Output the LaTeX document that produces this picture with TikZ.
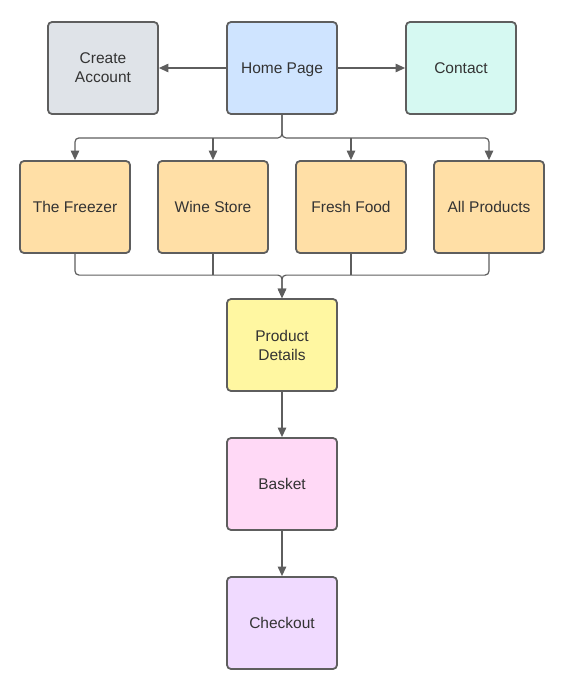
\documentclass[tikz,border=0pt]{standalone}
\usepackage{fontspec}
\setmainfont{Liberation Sans}
\usetikzlibrary{arrows.meta}

\definecolor{boxline}{HTML}{5E5E5E}
\definecolor{boxtext}{HTML}{333333}
\definecolor{grayfill}{HTML}{DFE3E8}
\definecolor{bluefill}{HTML}{CFE4FF}
\definecolor{tealfill}{HTML}{D6F9F2}
\definecolor{orangefill}{HTML}{FFDFA6}
\definecolor{yellowfill}{HTML}{FFF7A1}
\definecolor{pinkfill}{HTML}{FFD9F6}
\definecolor{purplefill}{HTML}{F0DAFF}

\begin{document}
\begin{tikzpicture}[x=1pt,y=1pt,
		page/.style={draw=boxline,line width=1.8pt,rounded corners=4pt,minimum width=110pt,minimum height=92pt,
			align=center,text=boxtext,font=\fontsize{15.5}{19}\selectfont},
		onepage/.style={page,text depth=0pt},
		wire/.style={draw=boxline,line width=1.2pt},
		link/.style={wire,-{Triangle[length=9.5pt,width=8.5pt]}},
		bus/.style={link,rounded corners=4pt}]
					\useasboundingbox (0,0) rectangle (576,-696);
					
					%TOP ROW
					\node[onepage,fill=bluefill] (home) at (282,-68) {Home Page};
					\node[page,fill=grayfill] (account) at (103,-68) {Create\\Account};
					\node[onepage,fill=tealfill] (contact) at (461,-68) {Contact};
					%SHOP SECTIONS
					\node[onepage,fill=orangefill] (freezer) at (75,-207) {The Freezer};
					\node[onepage,fill=orangefill] (wine) at (213,-207) {Wine Store};
					\node[onepage,fill=orangefill] (fresh) at (351,-207) {Fresh Food};
					\node[onepage,fill=orangefill] (all) at (489,-207) {All Products};
					%ORDER PATH
					\node[page,fill=yellowfill] (details) at (282,-345) {Product\\Details};
					\node[onepage,fill=pinkfill] (basket) at (282,-484) {Basket};
					\node[onepage,fill=purplefill] (checkout) at (282,-623) {Checkout};
					
					%LINKS
					\draw[link] (home.west) -- (account.east);
					\draw[link] (home.east) -- (contact.west);
					\coordinate (split) at ([yshift=-23pt]home.south);
					\coordinate (join) at ([yshift=23pt]details.north);
					\foreach \s in {freezer,all}{
						\draw[bus] (home.south) -- (split) -| (\s.north);
						\draw[bus] (\s.south) |- (join) -- (details.north);
					}
					\foreach \s in {wine,fresh}{
						\draw[link] (split -| \s.north) -- (\s.north);
						\draw[wire] (\s.south) -- (join -| \s.south);
					}
					\draw[link] (details.south) -- (basket.north);
					\draw[link] (basket.south) -- (checkout.north);
				
				  \end{tikzpicture}
\end{document}
